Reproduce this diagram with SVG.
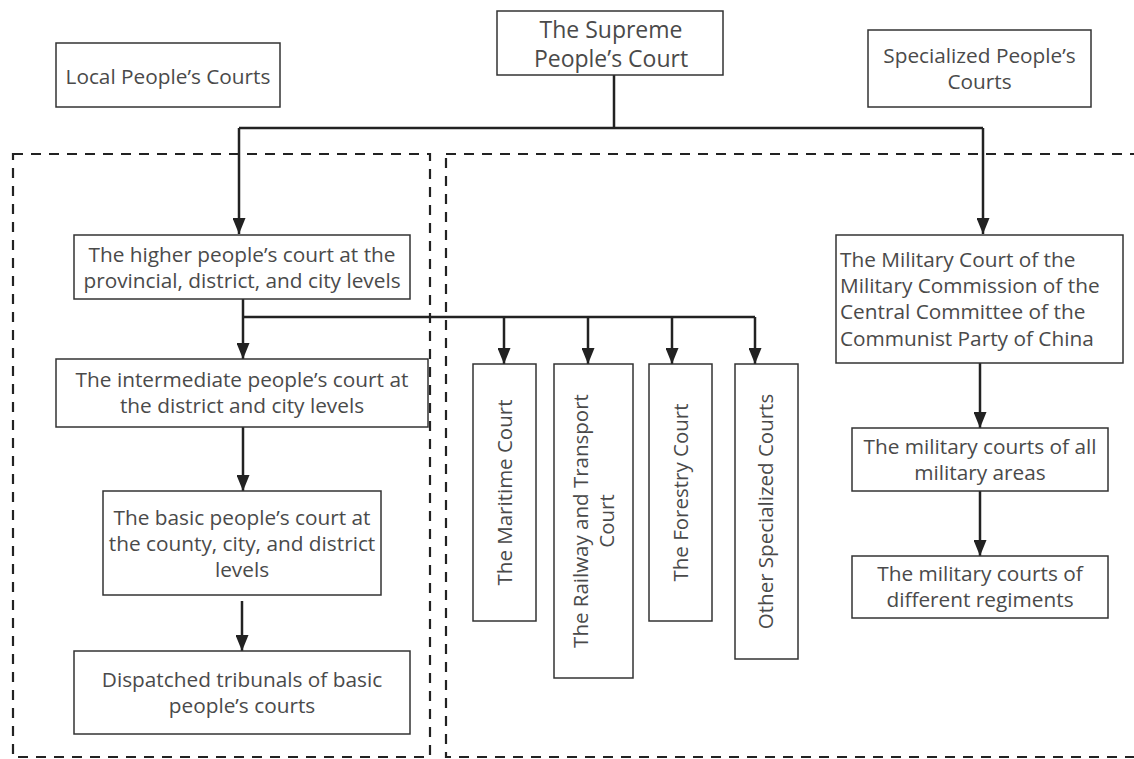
<svg xmlns="http://www.w3.org/2000/svg" width="1134" height="759" viewBox="0 0 1134 759">
<style>
.box{fill:#fff;stroke:#333;stroke-width:1.5}
.t{font-family:"Open Sans","Noto Sans",sans-serif;font-size:20.8px;fill:#4a4a4a;text-anchor:middle}
.tl{text-anchor:start}
.v{font-size:20.5px}
.big{font-size:23px}
.dash{fill:none;stroke:#222;stroke-width:2.2;stroke-dasharray:10 8}
.c{fill:none;stroke:#222;stroke-width:2.5}
.ca{fill:none;stroke:#222;stroke-width:2.5;marker-end:url(#ah)}
</style>
<defs>
<marker id="ah" viewBox="0 0 16 13" refX="16" refY="6.5" markerWidth="16" markerHeight="13" markerUnits="userSpaceOnUse" orient="auto">
<path d="M0,0 L16,6.5 L0,13 Z" fill="#222"/>
</marker>
</defs>
<rect width="1134" height="759" fill="#fff"/>
<g id="regions">
<rect class="dash" x="13" y="154" width="417" height="603"/>
<rect class="dash" x="446" y="154" width="700" height="603"/>
</g>
<g id="connectors">
<path class="c" d="M614,75 V128 M239,128 H983"/>
<path class="ca" d="M239,128 V234"/>
<path class="ca" d="M983,128 V234"/>
<path class="ca" d="M243,299 V359"/>
<path class="c" d="M243,317 H755"/>
<path class="ca" d="M504,317 V364"/>
<path class="ca" d="M588,317 V364"/>
<path class="ca" d="M672,317 V364"/>
<path class="ca" d="M755,317 V364"/>
<path class="ca" d="M243,427 V491"/>
<path class="ca" d="M242,601 V651"/>
<path class="ca" d="M980,363 V428"/>
<path class="ca" d="M980,491 V556"/>
</g>
<g id="local">
<rect class="box" x="56" y="43" width="224" height="64"/>
<text class="t" x="168" y="84">Local People’s Courts</text>
</g>
<g id="supreme">
<rect class="box" x="497" y="11" width="226" height="64"/>
<text class="t big" x="611" y="38">The Supreme</text>
<text class="t big" x="611" y="67">People’s Court</text>
</g>
<g id="specialized">
<rect class="box" x="868" y="30" width="223" height="77"/>
<text class="t" x="979.5" y="63">Specialized People’s</text>
<text class="t" x="979.5" y="89">Courts</text>
</g>
<g id="higher">
<rect class="box" x="74" y="235" width="336" height="64"/>
<text class="t" x="242" y="262">The higher people’s court at the</text>
<text class="t" x="242" y="288">provincial, district, and city levels</text>
</g>
<g id="intermediate">
<rect class="box" x="56" y="359" width="372" height="68"/>
<text class="t" x="242" y="387">The intermediate people’s court at</text>
<text class="t" x="242" y="413">the district and city levels</text>
</g>
<g id="basic">
<rect class="box" x="103" y="491" width="278" height="104"/>
<text class="t" x="242" y="525">The basic people’s court at</text>
<text class="t" x="242" y="551">the county, city, and district</text>
<text class="t" x="242" y="577">levels</text>
</g>
<g id="dispatched">
<rect class="box" x="74" y="651" width="336" height="83"/>
<text class="t" x="242" y="687">Dispatched tribunals of basic</text>
<text class="t" x="242" y="713">people’s courts</text>
</g>
<g id="maritime">
<rect class="box" x="473" y="364" width="63" height="257"/>
<text class="t v" transform="translate(512,492.5) rotate(-90)">The Maritime Court</text>
</g>
<g id="railway">
<rect class="box" x="554" y="364" width="79" height="314"/>
<text class="t v" transform="translate(588,521) rotate(-90)">The Railway and Transport</text>
<text class="t v" transform="translate(614,521) rotate(-90)">Court</text>
</g>
<g id="forestry">
<rect class="box" x="649" y="364" width="63" height="257"/>
<text class="t v" transform="translate(688,492.5) rotate(-90)">The Forestry Court</text>
</g>
<g id="other">
<rect class="box" x="735" y="364" width="63" height="295"/>
<text class="t v" transform="translate(773,511.5) rotate(-90)">Other Specialized Courts</text>
</g>
<g id="military">
<rect class="box" x="836" y="235" width="287" height="128"/>
<text class="t tl" x="840" y="267">The Military Court of the</text>
<text class="t tl" x="840" y="293">Military Commission of the</text>
<text class="t tl" x="840" y="319">Central Committee of the</text>
<text class="t tl" x="840" y="346">Communist Party of China</text>
</g>
<g id="areas">
<rect class="box" x="852" y="428" width="256" height="63"/>
<text class="t" x="980" y="454">The military courts of all</text>
<text class="t" x="980" y="480">military areas</text>
</g>
<g id="regiments">
<rect class="box" x="852" y="556" width="256" height="62"/>
<text class="t" x="980" y="581">The military courts of</text>
<text class="t" x="980" y="607">different regiments</text>
</g>
</svg>
